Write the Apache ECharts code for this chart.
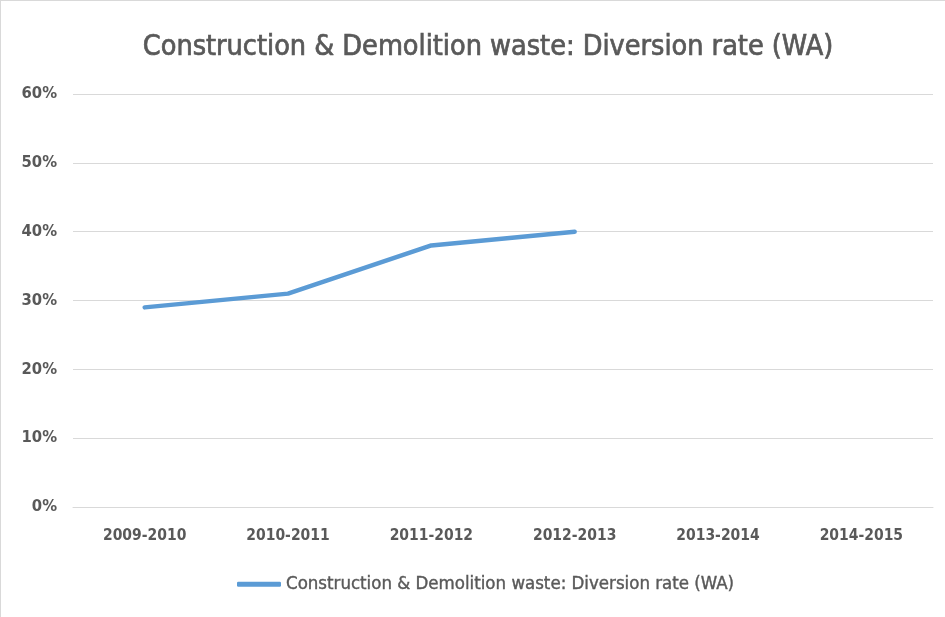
<!DOCTYPE html>
<html><head><meta charset="utf-8">
<script src="https://cdn.jsdelivr.net/npm/echarts@6/dist/echarts.min.js"></script>
<style>html,body{margin:0;padding:0;background:#fff}#c{width:945px;height:617px;box-sizing:border-box;border-top:1px solid #d9d9d9;border-left:1px solid #d9d9d9}</style>
</head><body><div id="c"></div>
<script>
const categories = ['2009-2010','2010-2011','2011-2012','2012-2013','2013-2014','2014-2015'];
const seriesName = 'Construction & Demolition waste: Diversion rate (WA)';
const diversionRate = [29, 31, 38, 40, null, null];
const titleText = 'Construction & Demolition waste: Diversion rate (WA)';
const FONT = '"DejaVu Sans Condensed", "Liberation Sans Narrow", "Open Sans", sans-serif';
const chart = echarts.init(document.getElementById('c'));
chart.setOption({
  animation: false,
  title: {text: titleText, left: 482, textAlign: 'center', top: 27,
    textStyle: {fontFamily: FONT, fontSize: 28.5, fontWeight: 500, color: '#595959',
      textBorderColor: '#595959', textBorderWidth: 0.7}},
  grid: {left: 72, right: 12, top: 93, bottom: 110, containLabel: false},
  legend: {bottom: 18, left: 231, itemWidth: 44, itemHeight: 5, itemGap: 4,
    icon: 'roundRect',
    textStyle: {fontFamily: FONT, fontSize: 18.5, color: '#595959',
      textBorderColor: '#595959', textBorderWidth: 0.4}, data: [seriesName]},
  xAxis: {type: 'category', data: categories, boundaryGap: true,
    axisLine: {show: true, lineStyle: {color: '#d9d9d9'}}, axisTick: {show: false},
    axisLabel: {margin: 21, fontFamily: FONT, fontSize: 15.5, fontWeight: 'bold', color: '#595959'}},
  yAxis: {type: 'value', min: 0, max: 60, interval: 10,
    axisLine: {show: false}, axisTick: {show: false},
    splitLine: {lineStyle: {color: '#d9d9d9', width: 1}},
    axisLabel: {margin: 16, formatter: '{value}%', fontFamily: FONT, fontSize: 16.5, fontWeight: 'bold', color: '#595959'}},
  series: [{name: seriesName, type: 'line', data: diversionRate, showSymbol: false, symbol: 'none',
    lineStyle: {color: '#5B9BD5', width: 4.5, cap: 'round', join: 'round'},
    itemStyle: {color: '#5B9BD5'}}]
});
</script></body></html>
